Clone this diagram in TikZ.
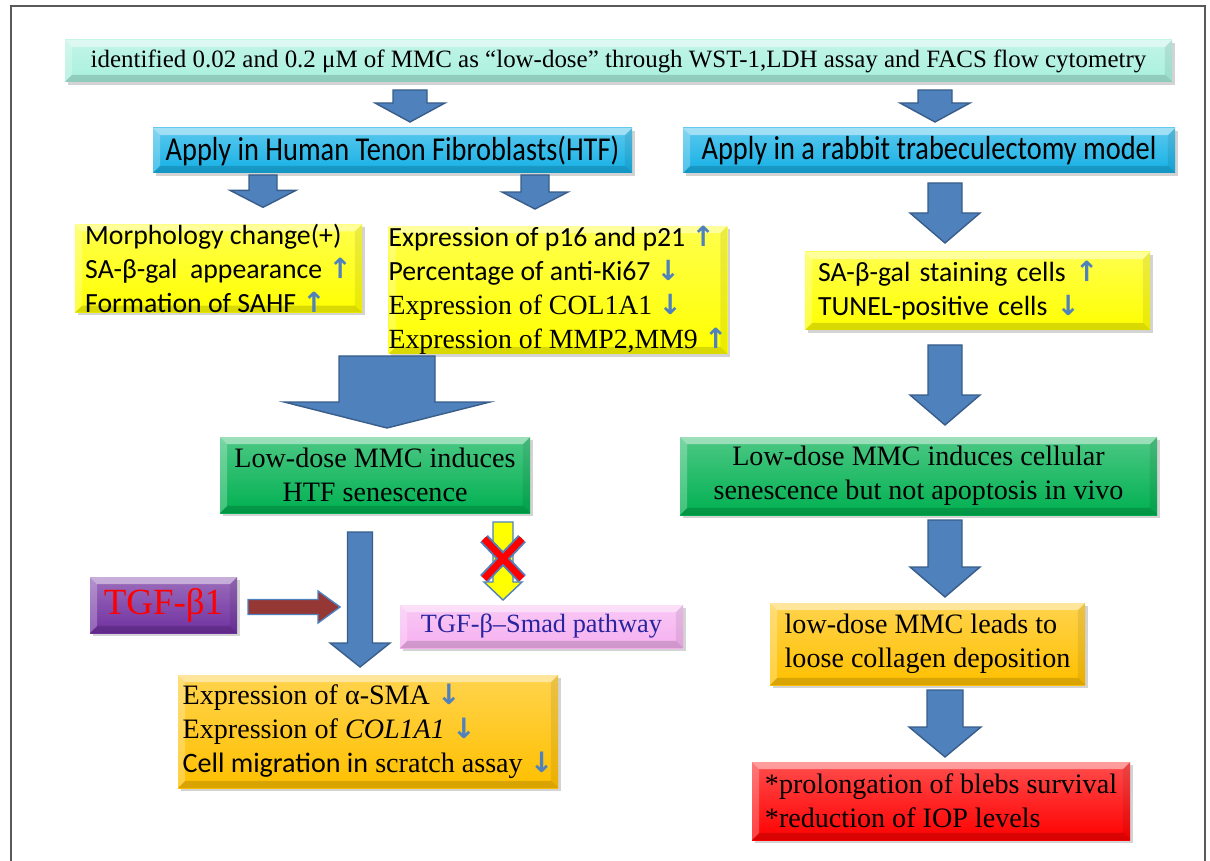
\documentclass[tikz,border=0pt]{standalone}
\usepackage{fontspec}
\setmainfont{Liberation Serif}
\newfontfamily\calib{Carlito}
\newfontfamily\calibnarrow[FakeStretch=0.85]{Carlito}
\newfontfamily\symbfont{DejaVu Sans}
\usetikzlibrary{calc,shadows,positioning}

\definecolor{mint}{RGB}{168,240,220}
\definecolor{sky}{RGB}{20,176,230}
\definecolor{lemon}{RGB}{255,255,0}
\definecolor{leaf}{RGB}{0,176,80}
\definecolor{plum}{RGB}{112,48,160}
\definecolor{rose}{RGB}{246,176,240}
\definecolor{amber}{RGB}{255,192,0}
\definecolor{scarlet}{RGB}{255,0,0}
\definecolor{steel}{RGB}{79,129,189}
\definecolor{steeldark}{RGB}{56,93,138}
\definecolor{brick}{RGB}{149,55,53}
\definecolor{navy}{RGB}{40,36,160}

% small up / down marks after a line
\newcommand{\incr}{\ {\symbfont\bfseries\color{steel}↑}}
\newcommand{\decr}{\ {\symbfont\bfseries\color{steel}↓}}

% bevel edges of a box
\newcommand{\panebevel}{%
  \coordinate (bsw) at (path picture bounding box.south west);
  \coordinate (bne) at (path picture bounding box.north east);
  \coordinate (bnw) at (bsw |- bne);
  \coordinate (bse) at (bne |- bsw);
  \fill[white,opacity=.45] (bnw) -- (bne) -- ([xshift=-4pt,yshift=-4pt]bne) -- ([xshift=4pt,yshift=-4pt]bnw) -- cycle;
  \fill[white,opacity=.25] (bnw) -- (bsw) -- ([xshift=4pt,yshift=4pt]bsw) -- ([xshift=4pt,yshift=-4pt]bnw) -- cycle;
  \fill[black,opacity=.15] (bsw) -- (bse) -- ([xshift=-4pt,yshift=4pt]bse) -- ([xshift=4pt,yshift=4pt]bsw) -- cycle;
  \fill[black,opacity=.08] (bne) -- (bse) -- ([xshift=-4pt,yshift=4pt]bse) -- ([xshift=-4pt,yshift=-4pt]bne) -- cycle;
}

% block arrow: [style] {tail} {tip} {shaft half} {head half} {head length}, in px
\newcommand{\blockarrow}[6][]{%
  \pgfmathsetlengthmacro{\shaftw}{#4*0.02cm}%
  \pgfmathsetlengthmacro{\headw}{#5*0.02cm}%
  \pgfmathsetlengthmacro{\headl}{#6*0.02cm}%
  \coordinate (tail) at #2;
  \coordinate (tip) at #3;
  \coordinate (neck) at ($(tip)!\headl!(tail)$);
  \filldraw[#1] ($(tail)!\shaftw!90:(tip)$) -- ($(neck)!\shaftw!90:(tip)$)
    -- ($(neck)!\headw!90:(tip)$) -- (tip) -- ($(neck)!\headw!-90:(tip)$)
    -- ($(neck)!\shaftw!-90:(tip)$) -- ($(tail)!\shaftw!-90:(tip)$) -- cycle;
}

\tikzset{
  pane/.style={top color=#1!70!white, bottom color=#1, inner sep=0pt, outer sep=0pt,
    drop shadow={shadow xshift=1.5pt, shadow yshift=-1.5pt, opacity=.35},
    path picture={\panebevel}},
  boxsize/.style 2 args={minimum width=#1*0.02cm, minimum height=#2*0.02cm},
  serif/.style={font=\fontsize{16}{19.5}\selectfont},
  sans/.style={font=\calib\fontsize{15.8}{19.3}\selectfont},
  banner/.style={font=\calibnarrow\fontsize{19}{22}\selectfont},
  arr/.style={fill=steel, draw=steeldark, line width=0.8pt},
}

\begin{document}
\begin{tikzpicture}[x=0.02cm, y=-0.02cm]
  \useasboundingbox (0,0) rectangle (1210,861);
  \draw[black!65, line width=0.8pt] (11,6) rectangle (1205,880);

  % columns of the block arrows
  \coordinate (c1) at (410,0);
  \coordinate (c2) at (935,0);
  \coordinate (c3) at (263,0);
  \coordinate (c4) at (535,0);
  \coordinate (c6) at (387,0);
  \coordinate (c8) at (360,0);
  \coordinate (c10) at (503,0);
  \coordinate (colR) at (945,0);

  % boxes
  \node[pane=mint, boxsize={1107}{42}, font=\fontsize{14.2}{16}\selectfont] (top) at (618.5,61)
    {identified 0.02 and 0.2 μM of MMC as “low-dose” through WST-1,LDH assay and FACS flow cytometry};
  \node[pane=sky, boxsize={479}{45}, banner] (htf) at (392.5,150.5)
    {Apply in Human Tenon Fibroblasts(HTF)};
  \node[pane=sky, boxsize={492}{45}, banner] (rabbit) at (929,150.5)
    {Apply in a rabbit trabeculectomy model};

  \node[pane=lemon, boxsize={287}{83}, sans, align=left] (morph) at (218.5,268.5)
    {Morphology change(+)\\SA-β-gal\ \ appearance\incr\\Formation of SAHF\incr};
  \node[pane=lemon, boxsize={336}{126}, sans, align=left] (expr) at (558,290)
    {Expression of p16 and p21\incr\\Percentage of anti-Ki67\decr\\{\rmfamily Expression of COL1A1}\decr\\{\rmfamily Expression of MMP2,MM9}\incr};
  \node[pane=lemon, boxsize={345}{78}, sans, text width=6.38cm, align=left] (stain) at (977.5,291)
    {SA-β-gal staining cells\incr\\TUNEL-positive cells\decr};

  \node[pane=leaf, boxsize={310}{76}, serif, align=center] (senL) at (375,475)
    {Low-dose MMC induces\\HTF senescence};
  \node[pane=leaf, boxsize={477}{78}, serif, align=center] (senR) at (918.5,476)
    {Low-dose MMC induces cellular\\senescence but not apoptosis in vivo};

  \node[pane=plum, boxsize={147}{56}, font=\fontsize{21}{24}\selectfont, text=red] (tgf) at (163.5,605) {TGF-β1};
  \node[pane=rose, boxsize={283}{43}, font=\fontsize{15}{18}\selectfont, text=navy] (smad) at (541.5,626.5) {TGF-β–Smad pathway};

  \node[pane=amber, boxsize={380}{113}, serif, align=left] (outL) at (368,731.5)
    {Expression of α-SMA\decr\\Expression of \textit{COL1A1}\decr\\{\calib Cell migration in} scratch assay\decr};
  \node[pane=amber, boxsize={315}{82}, serif, align=left] (collagen) at (927.5,644)
    {low-dose MMC leads to\\loose collagen deposition};
  \node[pane=scarlet, boxsize={378}{78}, serif, align=left] (result) at (941,801)
    {*prolongation of blebs survival\\{*}reduction of IOP levels};

  % block arrows
  \blockarrow[arr]{($(top.south -| c1)+(0,8)$)}{($(htf.north -| c1)+(0,-6)$)}{17}{35}{19}
  \blockarrow[arr]{($(top.south -| c2)+(0,8)$)}{($(rabbit.north -| c2)+(0,-6)$)}{17}{35}{19}
  \blockarrow[arr]{($(htf.south -| c3)+(0,2)$)}{($(morph.north -| c3)+(0,-17)$)}{14}{33}{17}
  \blockarrow[arr]{($(htf.south -| c4)+(0,2)$)}{($(expr.north -| c4)+(0,-17)$)}{14}{33}{17}
  \blockarrow[arr]{($(rabbit.south -| colR)+(0,10)$)}{($(stain.north -| colR)+(0,-9)$)}{17}{35}{30}
  \blockarrow[arr]{($(expr.south -| c6)+(0,2)$)}{($(senL.north -| c6)+(0,-9)$)}{48}{103}{26}
  \blockarrow[arr]{($(stain.south -| colR)+(0,15)$)}{($(senR.north -| colR)+(0,-12)$)}{17}{35}{30}
  \blockarrow[arr]{($(senR.south -| colR)+(0,5)$)}{($(collagen.north -| colR)+(0,-6)$)}{17}{35}{30}
  \blockarrow[arr]{($(collagen.south -| colR)+(0,5)$)}{($(result.north -| colR)+(0,-5)$)}{18}{36}{30}
  \blockarrow[arr]{($(senL.south -| c8)+(0,19)$)}{($(outL.north -| c8)+(0,-8)$)}{12.5}{30}{24}
  \blockarrow[fill=brick, draw=steel, line width=0.8pt]{($(tgf.east)+(11,2)$)}{($(tgf.east -| c8)+(-20,2)$)}{7.5}{16}{22}
  \blockarrow[fill=lemon, draw=steel, line width=0.8pt]{($(senL.south -| c10)+(0,9)$)}{($(smad.north -| c10)+(0,-5)$)}{10}{19}{18}

  % blocked pathway
  \coordinate (cross) at ($(tail)!0.47!(tip)$);
  \foreach \c/\w in {steel/6pt, red/3.8pt}
    \draw[\c, line width=\w] ($(cross)+(-19,-20)$) -- ($(cross)+(19,20)$)
      ($(cross)+(19,-20)$) -- ($(cross)+(-19,20)$);
\end{tikzpicture}
\end{document}
